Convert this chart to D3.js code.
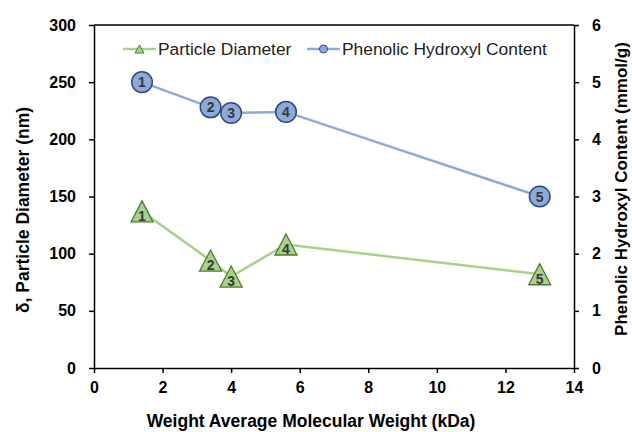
<!DOCTYPE html>
<html>
<head>
<meta charset="utf-8">
<script src="https://cdn.jsdelivr.net/npm/d3@7"></script>
<style>
  html, body { margin: 0; padding: 0; background: #fff; }
  svg { display: block; }
</style>
</head>
<body>
<div id="chart"></div>
<script>
/* ── Data ── */
const sampleIds   = ['1', '2', '3', '4', '5'];
const molWeight   = [1.4, 3.4, 4.0, 5.6, 13.0];
const diameter    = [137, 94, 80, 108, 82];
const hydroxyl    = [5.0, 4.56, 4.46, 4.48, 3.0];
const xTicks      = [0, 2, 4, 6, 8, 10, 12, 14];
const yLeftTicks  = [0, 50, 100, 150, 200, 250, 300];
const yRightTicks = [0, 1, 2, 3, 4, 5, 6];

const W = 632, H = 432;
const M = { top: 25, right: 58, bottom: 64, left: 94 };
const FONT = "'Liberation Sans', Arial, sans-serif";

const GREEN = '#a9d18e', GREEN_DK = '#4e7a2e';
const BLUE  = '#8eaadb', BLUE_DK  = '#2f4a7a';

const svg = d3.select('#chart').append('svg')
  .attr('width', W).attr('height', H);

const x  = d3.scaleLinear().domain([0, 14]).range([M.left, W - M.right]);
const yL = d3.scaleLinear().domain([0, 300]).range([H - M.bottom, M.top]);
const yR = d3.scaleLinear().domain([0, 6]).range([H - M.bottom, M.top]);

/* ── Axes ── */
function styleAxis(g) {
  g.select('.domain').attr('stroke', '#000').attr('stroke-width', 1.5);
  g.selectAll('.tick line').attr('stroke', '#000').attr('stroke-width', 1.5);
  g.selectAll('.tick text')
    .attr('font-family', FONT).attr('font-size', '16px')
    .attr('font-weight', 'bold').attr('fill', '#000');
}

svg.append('g')
  .attr('transform', `translate(0,${H - M.bottom})`)
  .call(d3.axisBottom(x).tickValues(xTicks).tickSize(5).tickSizeOuter(0).tickPadding(9))
  .call(styleAxis);

svg.append('g')
  .attr('transform', `translate(${M.left},0)`)
  .call(d3.axisLeft(yL).tickValues(yLeftTicks).tickSize(5).tickSizeOuter(0).tickPadding(13))
  .call(styleAxis);

svg.append('g')
  .attr('transform', `translate(${W - M.right},0)`)
  .call(d3.axisRight(yR).tickValues(yRightTicks).tickFormat(d3.format('d'))
    .tickSize(5).tickSizeOuter(0).tickPadding(13))
  .call(styleAxis);

/* top frame line */
svg.append('line')
  .attr('x1', x(0)).attr('x2', x(14))
  .attr('y1', yL(300)).attr('y2', yL(300))
  .attr('stroke', '#000').attr('stroke-width', 1.5);

/* ── Axis titles ── */
svg.append('text')
  .attr('x', 311).attr('y', 427)
  .attr('text-anchor', 'middle')
  .attr('font-family', FONT).attr('font-size', '17.5px').attr('font-weight', 'bold')
  .text('Weight Average Molecular Weight (kDa)');

svg.append('text')
  .attr('transform', 'translate(29,210) rotate(-90)')
  .attr('text-anchor', 'middle')
  .attr('font-family', FONT).attr('font-size', '17.5px').attr('font-weight', 'bold')
  .text('δ, Particle Diameter (nm)');

svg.append('text')
  .attr('transform', 'translate(627,189) rotate(-90)')
  .attr('text-anchor', 'middle')
  .attr('font-family', FONT).attr('font-size', '17px').attr('font-weight', 'bold')
  .text('Phenolic Hydroxyl Content (mmol/g)');

/* ── Series ── */
const pd = molWeight.map((v, i) => ({ x: v, y: diameter[i], id: sampleIds[i] }));
const ph = molWeight.map((v, i) => ({ x: v, y: hydroxyl[i], id: sampleIds[i] }));

svg.append('path')
  .datum(ph)
  .attr('fill', 'none').attr('stroke', BLUE).attr('stroke-width', 2.5)
  .attr('d', d3.line().x(d => x(d.x)).y(d => yR(d.y)));

svg.append('path')
  .datum(pd)
  .attr('fill', 'none').attr('stroke', GREEN).attr('stroke-width', 2.5)
  .attr('d', d3.line().x(d => x(d.x)).y(d => yL(d.y)));

/* triangle centred on its bounding box, like the spreadsheet marker */
function triangle(w, h) {
  const p = d3.path();
  p.moveTo(0, -h / 2);
  p.lineTo(w / 2, h / 2);
  p.lineTo(-w / 2, h / 2);
  p.closePath();
  return p.toString();
}

const tri = svg.append('g').selectAll('g')
  .data(pd).join('g')
  .attr('transform', d => `translate(${x(d.x)},${yL(d.y)})`);
tri.append('path')
  .attr('d', triangle(22, 21))
  .attr('fill', GREEN).attr('stroke', GREEN_DK).attr('stroke-width', 1.3);
tri.append('text')
  .attr('y', 9.5).attr('text-anchor', 'middle')
  .attr('font-family', FONT).attr('font-size', '14px').attr('font-weight', 'bold')
  .attr('fill', '#383838')
  .text(d => d.id);

const circ = svg.append('g').selectAll('g')
  .data(ph).join('g')
  .attr('transform', d => `translate(${x(d.x)},${yR(d.y)})`);
circ.append('circle')
  .attr('r', 10.3)
  .attr('fill', BLUE).attr('stroke', BLUE_DK).attr('stroke-width', 1.5);
circ.append('text')
  .attr('y', 5).attr('text-anchor', 'middle')
  .attr('font-family', FONT).attr('font-size', '14px').attr('font-weight', 'bold')
  .attr('fill', '#383838')
  .text(d => d.id);

/* ── Legend ── */
const legend = [
  { label: 'Particle Diameter', color: GREEN, dark: GREEN_DK, shape: 'tri', x0: 123 },
  { label: 'Phenolic Hydroxyl Content', color: BLUE, dark: BLUE_DK, shape: 'circ', x0: 307 },
];
const lg = svg.append('g').selectAll('g')
  .data(legend).join('g')
  .attr('transform', d => `translate(${d.x0},49)`);
lg.append('line')
  .attr('x1', 0).attr('x2', 33)
  .attr('stroke', d => d.color).attr('stroke-width', 2.5);
lg.filter(d => d.shape === 'tri').append('path')
  .attr('transform', 'translate(16.5,0)')
  .attr('d', triangle(9, 8))
  .attr('fill', d => d.color).attr('stroke', d => d.dark).attr('stroke-width', 1);
lg.filter(d => d.shape === 'circ').append('circle')
  .attr('cx', 16.5).attr('r', 4)
  .attr('fill', d => d.color).attr('stroke', d => d.dark).attr('stroke-width', 1);
lg.append('text')
  .attr('x', 35).attr('y', 6)
  .attr('font-family', FONT).attr('font-size', '17.4px')
  .attr('fill', '#222')
  .text(d => d.label);
</script>
</body>
</html>
